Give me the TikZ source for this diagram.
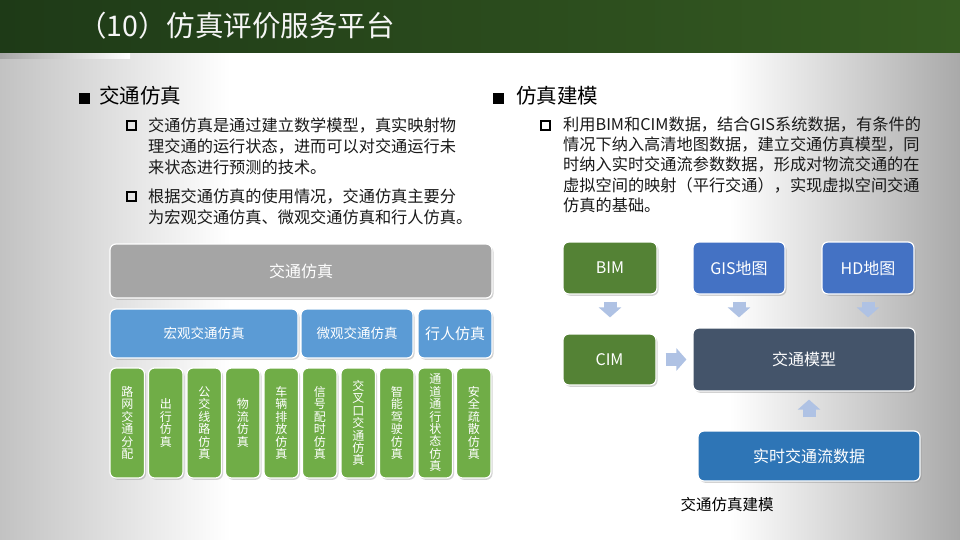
\documentclass[tikz,border=0pt]{standalone}
\usepackage{fontspec}
\setmainfont{Noto Sans CJK SC}
\usetikzlibrary{arrows.meta,positioning,shadows}

\definecolor{ttlL}{HTML}{1E3A17}
\definecolor{ttlR}{HTML}{365B22}
\definecolor{bgL}{HTML}{C2C2C2}
\definecolor{bgR}{HTML}{A9A9A9}
\definecolor{simgray}{HTML}{A5A5A5}
\definecolor{rowblue}{HTML}{5B9BD5}
\definecolor{rowgreen}{HTML}{70AD47}
\definecolor{darkgreen}{HTML}{548235}
\definecolor{mapblue}{HTML}{4472C4}
\definecolor{slate}{HTML}{44546A}
\definecolor{flowblue}{HTML}{2E75B6}
\definecolor{arrowblue}{HTML}{AFC2E4}

\pgfdeclarehorizontalshading{bgshade}{100bp}{color(0bp)=(bgL); color(25bp)=(bgL); color(37bp)=(white); color(63bp)=(white); color(75bp)=(bgR); color(100bp)=(bgR)}

\begin{document}
\begin{tikzpicture}[x=1pt,y=-1pt,
    box/.style={draw=white, line width=1.2pt, rounded corners=6pt, text=white, inner sep=0pt,
      drop shadow={shadow xshift=1.5pt, shadow yshift=-1.8pt, opacity=0.35}},
    vbox/.style={box, fill=rowgreen, minimum width=34.5pt, minimum height=110pt, align=center,
      font=\fontsize{12}{12.4}\selectfont},
    blk/.style={line width=13pt, draw=arrowblue, -{Triangle[width=22pt,length=10pt]}},
    para/.style={anchor=north west, inner sep=0pt, align=left, text=black!90},
    hsq/.style={fill=black, minimum size=10.5pt, inner sep=0pt},
    bsq/.style={draw=black, line width=1.6pt, minimum size=9.4pt, inner sep=0pt}]
  \useasboundingbox (0,0) rectangle (960,540);
  \fill[shading=bgshade] (0,0) rectangle (960,540);
  \fill[left color=black!35, right color=white] (0,53) rectangle (130,59);
  \fill[left color=ttlL, right color=ttlR] (0,0) rectangle (960,53);
  \node[anchor=west, inner sep=0pt, text=white!93!gray, font=\fontsize{28.5}{32}\selectfont] (title) at (78,26) {（10）仿真评价服务平台};

  \node[hsq] (lsq) at (84.5,98.5) {};
  \node[anchor=west, inner sep=0pt, font=\fontsize{20.5}{24}\selectfont] (lhead) at (99,96) {交通仿真};
  \node[bsq] (lb1) at (131.5,125.5) {};
  \node[para, font=\fontsize{16.2}{21}\selectfont] (lp1) at (148,117.5) {交通仿真是通过建立数学模型，真实映射物\\理交通的运行状态，进而可以对交通运行未\\来状态进行预测的技术。};
  \node[bsq] (lb2) at (131.5,196.5) {};
  \node[para, font=\fontsize{16.2}{21}\selectfont] (lp2) at (148,188.5) {根据交通仿真的使用情况，交通仿真主要分\\为宏观交通仿真、微观交通仿真和行人仿真。};

  \node[hsq] (rsq) at (498.5,98.5) {};
  \node[anchor=west, inner sep=0pt, font=\fontsize{20.5}{24}\selectfont] (rhead) at (516,96) {仿真建模};
  \node[bsq] (rb1) at (545.5,125.5) {};
  \node[para, font=\fontsize{16.2}{20.3}\selectfont] (rp) at (563,116.5) {利用BIM和CIM数据，结合GIS系统数据，有条件的\\情况下纳入高清地图数据，建立交通仿真模型，同\\时纳入实时交通流参数数据，形成对物流交通的在\\虚拟空间的映射（平行交通），实现虚拟空间交通\\仿真的基础。};

  \node[box, fill=simgray, minimum width=382pt, minimum height=54pt, font=\fontsize{16}{18}\selectfont] (sim) at (301,271) {交通仿真};
  \node[box, fill=rowblue, minimum width=188pt, minimum height=49pt, font=\fontsize{13.5}{16}\selectfont] (macro) at (204,333.5) {宏观交通仿真};
  \node[box, fill=rowblue, minimum width=112pt, minimum height=49pt, font=\fontsize{13.5}{16}\selectfont] (micro) at (357,333.5) {微观交通仿真};
  \node[box, fill=rowblue, minimum width=74pt, minimum height=49pt, font=\fontsize{15}{16}\selectfont] (ped) at (455,333.5) {行人仿真};
  \foreach \t [count=\i from 0] in {{路\\网\\交\\通\\分\\配}, {出\\行\\仿\\真}, {公\\交\\线\\路\\仿\\真}, {物\\流\\仿\\真}, {车\\辆\\排\\放\\仿\\真}, {信\\号\\配\\时\\仿\\真}, {交\\叉\\口\\交\\通\\仿\\真}, {智\\能\\驾\\驶\\仿\\真}, {通\\道\\通\\行\\状\\态\\仿\\真}, {安\\全\\疏\\散\\仿\\真}}
    \node[vbox] (g\i) at ({127.25+38.5*\i},423) {\t};

  \node[box, fill=darkgreen, minimum width=94pt, minimum height=52pt, font=\fontsize{16}{18}\selectfont] (bim) at (610,268) {BIM};
  \node[box, fill=mapblue, minimum width=92pt, minimum height=52pt, font=\fontsize{16}{18}\selectfont] (gis) at (739,268) {GIS地图};
  \node[box, fill=mapblue, minimum width=92pt, minimum height=52pt, font=\fontsize{16}{18}\selectfont] (hd) at (868,268) {HD地图};
  \node[box, fill=darkgreen, minimum width=93pt, minimum height=51pt, font=\fontsize{16}{18}\selectfont] (cim) at (609.5,359.5) {CIM};
  \node[box, fill=slate, minimum width=222pt, minimum height=63pt, font=\fontsize{16}{18}\selectfont] (model) at (804,359.5) {交通模型};
  \node[box, fill=flowblue, minimum width=222pt, minimum height=50pt, font=\fontsize{16}{18}\selectfont] (rt) at (809,456) {实时交通流数据};
  \node[text=black, font=\fontsize{15.5}{18}\selectfont] (cap) at (727,505) {交通仿真建模};

  \draw[blk, shorten <=7pt, shorten >=16pt] (bim.south) -- (bim.south |- cim.north);
  \draw[blk, shorten <=7pt, shorten >=10pt] (gis.south) -- (gis.south |- model.north);
  \draw[blk, shorten <=7pt, shorten >=10pt] (hd.south) -- (hd.south |- model.north);
  \draw[blk, shorten <=9pt, shorten >=6pt] (cim.east) -- (cim.east -| model.west);
  \draw[blk, shorten <=13pt, shorten >=8pt] (rt.north) -- (rt.north |- model.south);
\end{tikzpicture}
\end{document}
